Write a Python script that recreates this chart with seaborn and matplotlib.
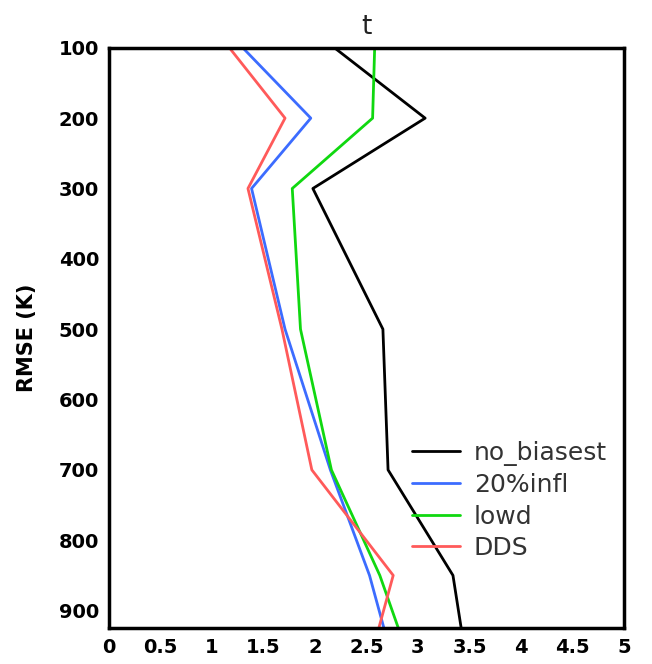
import pandas as pd
import seaborn as sns
import matplotlib.pyplot as plt

# Values (RMSE in K per pressure level)
levels = [100, 200, 300, 500, 700, 850, 925]
no_biasest = [2.19, 3.07, 1.98, 2.66, 2.71, 3.34, 3.42]
infl_20 = [1.30, 1.96, 1.385, 1.71, 2.15, 2.53, 2.67]
lowd = [2.58, 2.56, 1.78, 1.86, 2.16, 2.63, 2.81]
dds = [1.17, 1.71, 1.35, 1.68, 1.97, 2.76, 2.62]

names = ["no_biasest", "20%infl", "lowd", "DDS"]
colors = ["#000000", "#3c6cff", "#10d810", "#ff5a5a"]

rows = []
for name, vals in zip(names, [no_biasest, infl_20, lowd, dds]):
    for lev, v in zip(levels, vals):
        rows.append({"exp": name, "level": lev, "rmse": v})
df = pd.DataFrame(rows)

sns.set_style("white")
plt.rcParams["font.family"] = ["DejaVu Sans"]

fig = plt.figure(figsize=(6.52, 6.64), dpi=100)
ax = fig.add_axes([0.167, 0.054, 0.79, 0.874])

sns.lineplot(data=df, x="rmse", y="level", hue="exp", hue_order=names,
             palette=colors, sort=False, orient="y", linewidth=2,
             estimator=None, ax=ax)

ax.set_xlim(0, 5)
ax.set_ylim(925, 100)
ax.set_xticks([0, 0.5, 1, 1.5, 2, 2.5, 3, 3.5, 4, 4.5, 5])
ax.set_xticklabels(["0", "0.5", "1", "1.5", "2", "2.5", "3", "3.5", "4", "4.5", "5"])
ax.set_yticks(range(100, 1000, 100))
ax.tick_params(axis="both", direction="out", length=5, width=2, labelsize=14,
               pad=2, labelcolor="black", color="black")
for lab in ax.get_xticklabels() + ax.get_yticklabels():
    lab.set_fontweight("bold")
for sp in ax.spines.values():
    sp.set_linewidth(2.5)
    sp.set_color("black")

ax.set_xlabel("")
ax.set_ylabel("RMSE (K)", fontsize=15, fontweight="bold",
              family=["Liberation Sans Narrow", "DejaVu Sans"], color="black")
ax.yaxis.set_label_coords(-0.14, 0.5)
ax.set_title("t", fontsize=19, pad=10, color="#222222")

leg = ax.legend(loc="lower left", bbox_to_anchor=(0.57, 0.1), frameon=False,
                fontsize=18, handlelength=1.9, handletextpad=0.55,
                labelspacing=0.3, borderaxespad=0)
for t in leg.get_texts():
    t.set_color("#333333")
for h in leg.get_lines():
    h.set_linewidth(2)

fig.savefig("out.png", dpi=100)
